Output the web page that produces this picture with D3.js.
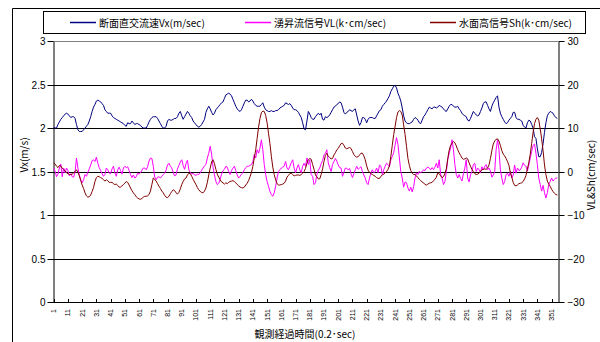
<!DOCTYPE html>
<html>
<head>
<meta charset="utf-8">
<script src="https://cdn.jsdelivr.net/npm/d3@7"></script>
<style>
  body { margin: 0; background: #fff; }
  svg { display: block; }
  text { font-family: "Liberation Sans", Arial, sans-serif; }
  .jp { font-family: "Noto Sans CJK JP", "Noto Sans", sans-serif; }
</style>
</head>
<body>
<svg id="chart" width="600" height="342"></svg>
<script>
// Cross-section velocity Vx (m/s), left axis
const vx = [
  2.01,2.00,2.00,2.04,2.07,2.10,2.12,2.14,2.16,2.17,
  2.16,2.14,2.12,2.13,2.13,2.11,2.04,1.98,1.96,1.96,
  1.96,1.98,2.00,2.02,2.04,2.08,2.13,2.19,2.24,2.27,
  2.31,2.32,2.31,2.30,2.28,2.26,2.21,2.19,2.17,2.17,
  2.17,2.14,2.12,2.11,2.10,2.09,2.08,2.07,2.06,2.05,
  2.03,2.02,2.06,2.05,2.05,2.08,2.06,2.04,2.05,2.05,
  2.04,2.03,2.01,2.00,2.00,2.00,2.03,2.07,2.10,2.12,
  2.13,2.13,2.13,2.11,2.08,2.05,2.02,2.00,2.00,2.02,
  2.08,2.10,2.09,2.09,2.10,2.11,2.11,2.13,2.17,2.19,
  2.14,2.10,2.13,2.16,2.19,2.17,2.14,2.12,2.08,2.06,
  2.04,2.02,2.01,2.02,2.04,2.07,2.10,2.18,2.22,2.25,
  2.22,2.18,2.15,2.17,2.21,2.23,2.25,2.27,2.29,2.30,
  2.34,2.38,2.39,2.40,2.39,2.37,2.33,2.29,2.25,2.22,
  2.20,2.19,2.21,2.25,2.29,2.32,2.32,2.30,2.31,2.33,
  2.31,2.28,2.26,2.25,2.25,2.25,2.27,2.29,2.24,2.21,
  2.20,2.19,2.19,2.20,2.19,2.19,2.20,2.20,2.21,2.23,
  2.24,2.25,2.26,2.29,2.28,2.27,2.28,2.26,2.23,2.21,
  2.21,2.20,2.18,2.15,2.12,2.06,1.99,1.98,2.08,2.19,
  2.16,2.12,2.10,2.10,2.13,2.15,2.17,2.15,2.17,2.10,
  2.09,2.13,2.12,2.13,2.15,2.18,2.21,2.24,2.25,2.27,
  2.28,2.30,2.29,2.24,2.18,2.16,2.18,2.19,2.21,2.20,
  2.19,2.21,2.22,2.15,2.08,2.03,2.06,2.12,2.12,2.10,
  2.06,2.10,2.12,2.12,2.12,2.11,2.11,2.14,2.17,2.20,
  2.21,2.25,2.27,2.29,2.31,2.34,2.37,2.42,2.45,2.48,
  2.49,2.46,2.40,2.36,2.31,2.23,2.14,2.08,2.06,2.05,
  2.05,2.06,2.07,2.10,2.12,2.11,2.09,2.06,2.05,2.09,
  2.13,2.15,2.18,2.21,2.24,2.23,2.22,2.24,2.24,2.23,
  2.24,2.26,2.25,2.24,2.22,2.20,2.19,2.22,2.25,2.27,
  2.27,2.25,2.24,2.24,2.25,2.22,2.20,2.17,2.15,2.14,
  2.13,2.09,2.08,2.11,2.15,2.19,2.17,2.15,2.14,2.15,
  2.19,2.23,2.28,2.30,2.30,2.26,2.22,2.19,2.25,2.29,
  2.32,2.35,2.37,2.24,2.17,2.13,2.10,2.07,2.05,2.06,
  2.09,2.11,2.13,2.18,2.18,2.12,2.10,2.10,2.09,2.08,
  2.03,2.01,2.00,2.06,2.09,2.08,2.04,2.00,1.90,1.88,
  1.76,1.67,1.67,1.72,1.82,1.95,2.06,2.14,2.17,2.19,
  2.18,2.17,2.14,2.12,2.11
];

// Upwelling signal VL (k·cm/sec), right axis
const vl = [
  0.8,0.0,-1.2,-0.6,0.8,1.7,-1.2,0.8,-0.3,0.8,
  0.2,-1.0,-0.5,-1.2,-1.3,-0.2,3.1,0.8,-0.8,-1.9,
  -2.6,-1.9,-0.7,-1.1,-0.2,0.6,1.5,2.5,2.7,2.3,
  3.3,1.9,0.9,0.2,-0.5,-1.1,-0.7,0.8,0.4,-0.4,
  -0.5,0.6,1.2,-0.3,-1.1,0.4,1.0,0.2,-0.6,0.8,
  1.2,0.9,1.1,0.2,-0.7,-1.4,-0.8,-1.5,-1.2,-0.4,
  -0.6,-0.3,0.3,0.8,0.8,0.4,1.1,2.4,3.1,3.0,
  1.2,-1.3,-1.9,-1.3,-1.2,-1.5,-1.1,-0.7,-0.4,0.3,
  1.5,1.9,1.2,0.8,-0.2,-1.0,-0.8,0.6,1.4,2.2,
  2.7,1.4,0.5,1.8,2.6,0.4,-0.2,-0.6,-0.4,-0.8,
  -0.9,-0.6,-0.7,-0.3,0.3,0.8,1.3,1.6,3.1,4.2,
  5.8,4.0,1.0,-0.8,-2.3,-3.0,-2.7,-1.8,-0.6,0.2,
  0.5,1.2,1.0,0.0,-0.7,0.2,0.8,1.2,0.2,-0.8,
  -1.5,-1.1,-0.6,-0.3,0.4,0.9,1.2,1.2,1.4,1.6,
  2.3,3.9,3.1,5.0,4.2,5.4,7.3,5.0,1.6,-0.7,
  -2.3,-3.4,-4.6,-5.3,-5.7,-4.9,-3.4,-1.5,0.0,0.4,
  0.8,1.0,1.2,2.3,0.8,0.4,1.2,2.0,2.7,0.8,
  -0.3,0.8,1.6,0.4,-0.3,1.2,1.9,1.2,3.1,1.6,
  2.7,-0.7,-1.1,-3.0,-2.6,-0.7,0.3,0.8,1.8,2.5,
  3.8,4.2,5.0,2.0,0.9,0.0,1.6,2.3,3.0,2.4,
  1.5,0.9,0.8,-1.1,-0.2,0.8,0.7,0.4,0.7,-0.5,
  -1.4,-0.5,0.4,1.2,0.5,0.8,1.1,0.0,-0.8,-1.5,
  -2.6,-3.0,-1.5,-0.3,0.4,-0.3,0.0,0.8,-0.3,1.5,
  1.2,-0.7,0.4,1.2,1.9,1.6,1.1,2.7,3.5,4.3,
  6.1,7.8,6.2,3.1,0.0,-1.5,-3.6,-2.4,-2.6,-3.8,
  -4.5,-3.6,-4.7,-3.5,-1.5,-0.3,-0.7,0.0,-0.3,0.0,
  0.4,0.2,0.8,1.0,0.8,0.4,0.9,0.4,1.0,1.9,
  0.8,2.7,-0.7,-1.5,-3.0,-2.3,0.0,2.7,4.2,5.4,
  7.3,5.0,1.6,-0.7,-1.5,-0.7,-1.6,-2.2,-0.5,0.8,
  2.7,-1.5,-2.4,-0.8,0.0,1.6,1.9,0.0,0.8,0.4,
  -0.3,1.1,0.4,1.2,1.6,0.4,0.8,0.1,-1.3,-0.8,
  0.0,5.0,7.3,5.0,0.4,-1.5,-3.0,-2.3,-0.7,-0.4,
  -1.1,0.0,-1.5,-0.8,1.5,-0.4,0.8,0.2,0.4,1.0,
  2.0,1.4,1.2,0.1,1.5,3.1,4.6,6.0,6.3,4.2,
  1.6,-1.5,-3.0,-4.5,-3.2,-4.9,-6.1,-4.9,-3.0,-2.3,
  -1.5,-2.2,-1.8,-1.5,-1.5
];

// Water-surface height signal Sh (k·cm/sec), right axis
const sh = [
  2.0,1.7,1.2,0.9,1.4,1.3,0.7,0.4,0.2,-0.3,
  -0.5,-0.7,-0.7,-0.6,-0.3,0.0,0.4,-0.2,-1.0,-2.1,
  -3.1,-3.9,-4.9,-5.6,-5.9,-5.8,-5.4,-4.6,-3.7,-2.3,
  -1.4,-1.1,-1.2,-1.4,-1.6,-1.9,-2.2,-1.9,-2.1,-2.5,
  -2.5,-2.5,-2.8,-3.0,-2.9,-3.2,-3.6,-3.6,-3.3,-3.0,
  -2.7,-2.3,-2.5,-3.1,-3.8,-4.4,-4.9,-5.3,-5.8,-6.1,
  -6.3,-6.4,-6.2,-5.9,-5.7,-5.7,-5.6,-5.3,-4.5,-3.0,
  -1.5,-1.8,-2.2,-2.8,-3.4,-3.9,-4.5,-4.9,-5.5,-5.9,
  -6.0,-5.7,-5.1,-4.6,-4.2,-4.4,-4.9,-5.2,-4.8,-4.0,
  -3.0,-2.3,-1.7,-1.5,-0.8,-0.4,-0.5,-1.1,-1.8,-2.4,
  -3.0,-3.7,-4.2,-4.6,-4.8,-4.9,-4.5,-3.8,-2.5,-0.8,
  0.8,2.2,2.7,1.8,0.5,-0.6,-1.3,-1.9,-2.4,-2.6,
  -2.9,-2.6,-2.8,-2.5,-2.3,-2.2,-2.1,-2.3,-2.6,-3.0,
  -3.3,-3.6,-3.7,-3.8,-3.6,-3.1,-2.7,-2.1,-1.2,-0.2,
  1.2,3.1,5.0,7.6,10.2,12.2,13.5,13.9,13.8,12.9,
  11.2,8.8,6.4,3.5,1.0,-0.7,-1.9,-2.8,-3.1,-3.1,
  -3.0,-2.9,-2.7,-2.2,-1.3,-0.9,-0.5,-0.4,-0.7,-1.0,
  -0.9,-0.8,-0.8,-0.9,-0.7,-0.4,0.0,0.7,1.9,2.7,
  3.0,2.8,1.6,0.5,-0.8,-1.2,-1.7,-1.7,-0.7,0.6,
  2.3,3.7,4.2,3.5,3.2,2.9,3.0,3.8,4.3,5.0,
  5.3,5.9,6.4,6.5,6.0,5.4,5.2,5.4,5.5,5.3,
  4.6,3.9,3.5,3.3,3.4,3.8,4.2,4.2,3.6,2.7,
  1.3,0.3,-0.2,-0.5,-0.7,-0.9,-1.1,-1.4,-1.6,-1.6,
  -1.1,-0.8,-0.6,-0.3,0.0,0.5,1.3,3.5,6.0,8.5,
  10.4,12.4,13.7,14.0,13.8,13.0,10.7,8.5,5.8,3.0,
  1.4,0.2,-0.4,-0.7,-0.7,-1.0,-1.4,-1.8,-2.1,-2.4,
  -2.6,-3.0,-3.1,-2.9,-2.7,-2.6,-2.5,-2.1,-1.8,-1.3,
  -0.3,-0.5,-1.0,-1.4,-1.2,-0.4,0.6,3.0,4.9,6.0,
  6.5,6.9,6.6,5.9,5.0,4.3,3.7,3.1,2.8,2.9,
  3.1,2.9,2.0,1.2,0.5,0.0,-0.5,-0.7,-0.6,-0.4,
  0.0,0.4,0.5,0.6,0.5,0.8,1.5,3.0,4.8,6.3,
  7.0,7.4,7.5,7.0,6.0,4.8,4.0,3.6,3.0,2.3,
  1.4,-0.2,-1.3,-2.5,-3.2,-3.3,-3.1,-2.8,-2.7,-2.6,
  -2.3,-1.7,-0.9,0.6,2.1,4.0,6.5,9.0,11.0,12.0,
  12.4,11.8,9.8,7.5,4.8,1.5,-0.7,-2.2,-2.9,-3.4,
  -4.1,-4.6,-5.0,-5.3,-5.4
];

const categories = d3.range(1, vx.length + 1);
const xTickLabels = categories.filter(c => (c - 1) % 10 === 0);
const leftTicks = [0, 0.5, 1, 1.5, 2, 2.5, 3];
const rightTicks = [-30, -20, -10, 0, 10, 20, 30];
const seriesNames = ["断面直交流速Vx(m/sec)", "湧昇流信号VL(k･cm/sec)", "水面高信号Sh(k･cm/sec)"];
const seriesColors = ["#000080", "#ff00ff", "#800000"];

const plot = { left: 53, right: 558, top: 41, bottom: 302 };
const svg = d3.select("#chart");

// outer chart frame (extends past the visible area on the right and bottom)
svg.append("path")
  .attr("d", "M12.5,342 V8.5 H600")
  .attr("fill", "none").attr("stroke", "#000").attr("stroke-width", 1);

const x = d3.scaleBand().domain(categories).range([plot.left, plot.right]);
const cx = c => x(c) + x.bandwidth() / 2;
const yL = d3.scaleLinear().domain([0, 3]).range([plot.bottom, plot.top]);
const yR = d3.scaleLinear().domain([-30, 30]).range([plot.bottom, plot.top]);

// horizontal gridlines
svg.append("g").selectAll("line").data(leftTicks).join("line")
  .attr("x1", plot.left).attr("x2", plot.right)
  .attr("y1", d => Math.round(yL(d)) + 0.5).attr("y2", d => Math.round(yL(d)) + 0.5)
  .attr("stroke", d => d === 3 ? "#808080" : "#000").attr("stroke-width", 1);

// left axis
const axL = svg.append("g").attr("transform", `translate(${plot.left + 0.5},0.5)`)
  .call(d3.axisLeft(yL).tickValues(leftTicks).tickSize(6).tickSizeOuter(0).tickFormat(d3.format("")));
axL.selectAll("text").attr("font-size", 10).attr("fill", "#000").attr("x", -8);
axL.selectAll("line,path").attr("stroke", "#000");
axL.selectAll(".tick").attr("transform", d => `translate(0,${Math.round(yL(d))})`);

// right axis
const axR = svg.append("g").attr("transform", `translate(${plot.right + 0.5},0.5)`)
  .call(d3.axisRight(yR).tickValues(rightTicks).tickSize(6).tickSizeOuter(0).tickFormat(d3.format("d")));
axR.selectAll("text").attr("font-size", 10).attr("fill", "#000").attr("x", 9);
axR.selectAll("line,path").attr("stroke", "#000");
axR.selectAll(".tick").attr("transform", d => `translate(0,${Math.round(yR(d))})`);

// category axis
const axB = svg.append("g");
axB.append("line").attr("x1", plot.left).attr("x2", plot.right + 1)
  .attr("y1", plot.bottom + 0.5).attr("y2", plot.bottom + 0.5).attr("stroke", "#000");
axB.selectAll("line.tk").data(xTickLabels).join("line").attr("class", "tk")
  .attr("x1", d => Math.round(cx(d)) + 0.5).attr("x2", d => Math.round(cx(d)) + 0.5)
  .attr("y1", plot.bottom - 3).attr("y2", plot.bottom)
  .attr("stroke", "#000");
axB.selectAll("text").data(xTickLabels).join("text")
  .attr("transform", d => `translate(${cx(d) + 2.5},${plot.bottom + 7}) rotate(-90)`)
  .attr("text-anchor", "end").attr("font-size", 7).attr("fill", "#000")
  .text(d => d);

// series lines: Vx on the left scale, VL and Sh on the right scale
const seriesData = [
  { values: vx, y: yL },
  { values: vl, y: yR },
  { values: sh, y: yR }
];
seriesData.forEach((s, k) => {
  const line = d3.line().x((v, i) => cx(categories[i])).y(v => s.y(v));
  svg.append("path").datum(s.values)
    .attr("d", line).attr("fill", "none")
    .attr("stroke", seriesColors[k]).attr("stroke-width", 1)
    .attr("stroke-linejoin", "round");
});

// axis titles
svg.append("text").attr("class", "jp")
  .attr("transform", `translate(28,155) rotate(-90)`)
  .attr("text-anchor", "middle").attr("font-size", 10).text("Vx(m/s)");
svg.append("text").attr("class", "jp")
  .attr("transform", `translate(595,175) rotate(-90)`)
  .attr("text-anchor", "middle").attr("font-size", 10).text("VL&Sh(cm/sec)");
svg.append("text").attr("class", "jp")
  .attr("x", 305).attr("y", 338)
  .attr("text-anchor", "middle").attr("font-size", 10).text("観測経過時間(0.2･sec)");

// legend
const lg = svg.append("g");
lg.append("rect").attr("x", 43.5).attr("y", 11.5).attr("width", 542).attr("height", 22)
  .attr("fill", "#fff").attr("stroke", "#000");
const legendX = [70, 245, 430];
seriesNames.forEach((name, k) => {
  lg.append("line").attr("x1", legendX[k]).attr("x2", legendX[k] + 26)
    .attr("y1", 22.5).attr("y2", 22.5).attr("stroke", seriesColors[k]).attr("stroke-width", 1.5);
  lg.append("text").attr("class", "jp").attr("x", legendX[k] + 29).attr("y", 26.5)
    .attr("font-size", 10).text(name);
});
</script>
</body>
</html>
